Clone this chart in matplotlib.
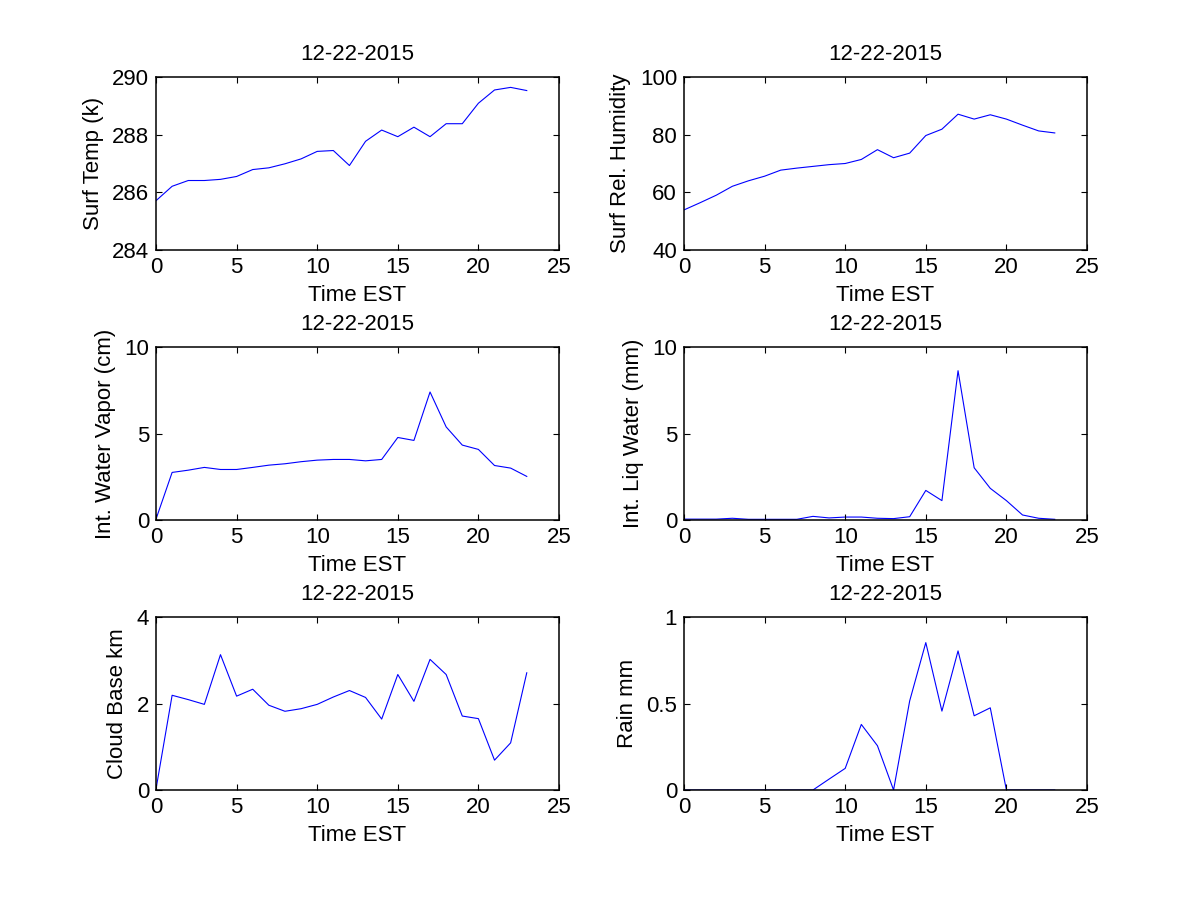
import matplotlib
matplotlib.use("Agg")
import matplotlib.pyplot as plt

plt.rcParams['font.family'] = ['Liberation Sans', 'DejaVu Sans']

hours = list(range(24))
title = "12-22-2015"
xlabel = "Time EST"

surf_temp = [285.71, 286.21, 286.41, 286.41, 286.45, 286.55, 286.79, 286.85, 286.99, 287.16,
             287.42, 287.45, 286.93, 287.77, 288.16, 287.93, 288.26, 287.93, 288.38, 288.38,
             289.09, 289.55, 289.64, 289.53]
surf_rh = [53.9, 56.4, 59.0, 62.1, 64.0, 65.6, 67.7, 68.4, 69.0, 69.6, 70.0, 71.4, 74.8, 72.0,
           73.6, 79.7, 81.9, 87.1, 85.4, 86.9, 85.4, 83.3, 81.3, 80.6]
water_vapor = [0.05, 2.75, 2.88, 3.04, 2.92, 2.92, 3.04, 3.17, 3.25, 3.37, 3.46, 3.5, 3.5, 3.42,
               3.5, 4.77, 4.6, 7.4, 5.38, 4.33, 4.08, 3.15, 3.0, 2.52]
liq_water = [0.05, 0.05, 0.05, 0.1, 0.04, 0.04, 0.04, 0.04, 0.21, 0.12, 0.17, 0.17, 0.1, 0.08,
             0.19, 1.71, 1.12, 8.63, 3.02, 1.83, 1.12, 0.29, 0.1, 0.04]
cloud_base = [0.02, 2.19, 2.09, 1.98, 3.13, 2.17, 2.33, 1.96, 1.82, 1.88, 1.98, 2.15, 2.3, 2.14,
              1.64, 2.67, 2.05, 3.02, 2.67, 1.71, 1.65, 0.69, 1.09, 2.71]
rain = [0, 0, 0, 0, 0, 0, 0, 0, 0, 0.063, 0.125, 0.379, 0.256, 0, 0.515, 0.852, 0.456, 0.804,
        0.429, 0.475, 0, 0, 0, 0]

panels = [
    (surf_temp, "Surf Temp (k)", (284, 290), [284, 286, 288, 290]),
    (surf_rh, "Surf Rel. Humidity", (40, 100), [40, 60, 80, 100]),
    (water_vapor, "Int. Water Vapor (cm)", (0, 10), [0, 5, 10]),
    (liq_water, "Int. Liq Water (mm)", (0, 10), [0, 5, 10]),
    (cloud_base, "Cloud Base km", (0, 4), [0, 2, 4]),
    (rain, "Rain mm", (0, 1), [0, 0.5, 1]),
]

fig = plt.figure(figsize=(12, 9), dpi=100)
W, H = 1200, 900
lefts = [156, 684]
width = 403
rows = [(77, 250), (347, 520), (617, 790)]
fs = 16

for i, (data, ylab, ylim, yticks) in enumerate(panels):
    r, c = divmod(i, 2)
    top, bot = rows[r]
    ax = fig.add_axes([lefts[c] / W, 1 - bot / H, width / W, (bot - top) / H])
    ax.plot(hours, data, color=(0, 0, 1), lw=0.8, zorder=1)
    ax.set_xlim(0, 25)
    ax.set_ylim(*ylim)
    ax.set_xticks([0, 5, 10, 15, 20, 25])
    ax.set_yticks(yticks)
    ax.set_yticklabels([f"{t:g}" for t in yticks])
    ax.tick_params(direction='in', length=4, width=0.8, top=True, right=True,
                   labelsize=fs, pad=5)
    for s in ax.spines.values():
        s.set_linewidth(1.1)
        s.set_zorder(3)
    ax.set_title(title, fontsize=fs, pad=12)
    ax.set_xlabel(xlabel, fontsize=fs, labelpad=5)
    ax.set_ylabel(ylab, fontsize=fs, labelpad=6)

fig.savefig("out.png", dpi=100)
